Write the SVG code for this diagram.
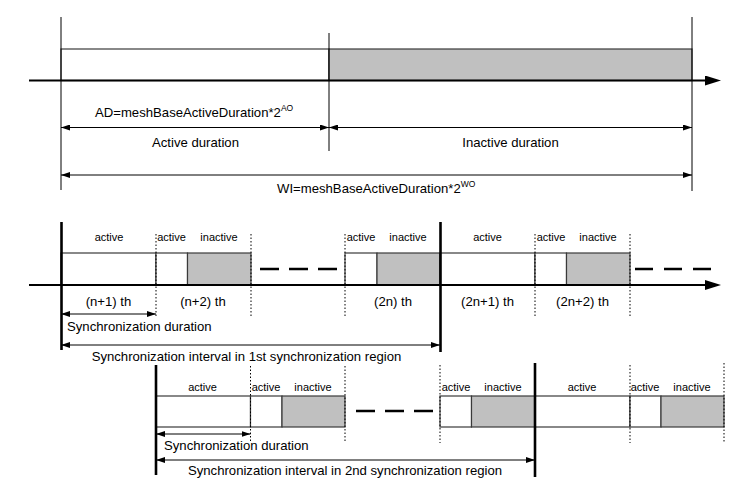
<svg xmlns="http://www.w3.org/2000/svg" width="751" height="484" viewBox="0 0 751 484">
<style>
text{font-family:"Liberation Sans",Arial,sans-serif;fill:#000}
.t13{font-size:13.15px}
.t11{font-size:11px}
.mid{text-anchor:middle}
.thin{stroke:#000;stroke-width:1;fill:none}
.thick{stroke:#000;stroke-width:2.6;fill:none}
.axis{stroke:#000;stroke-width:2.2;fill:none}
.dot{stroke:#000;stroke-width:1;stroke-dasharray:1.5 2;fill:none}
.dash{stroke:#000;stroke-width:2.6;fill:none}
.w{fill:#fff;stroke:#3a3a3a;stroke-width:1.2}
.g{fill:#c0c0c0;stroke:#3a3a3a;stroke-width:1.2}
.dim{stroke:#000;stroke-width:1;fill:none;marker-start:url(#ah);marker-end:url(#ah)}
</style>
<defs>
<marker id="ah" markerUnits="userSpaceOnUse" markerWidth="9" markerHeight="6" refX="9" refY="3" orient="auto-start-reverse"><path d="M0,0 L9,3 L0,6 Z" fill="#000"/></marker>
<marker id="axh" markerUnits="userSpaceOnUse" markerWidth="16" markerHeight="10" refX="2" refY="5" orient="auto"><path d="M0,0 L16,5 L0,10 Z" fill="#000"/></marker>
</defs>
<rect width="751" height="484" fill="#fff"/>

<!-- Top section -->
<g id="top-bar">
<rect class="w" x="61" y="49" width="268" height="31.5"/>
<rect class="g" x="329" y="49" width="363" height="31.5"/>
</g>
<g id="top-axis">
<line class="axis" x1="29" y1="80.5" x2="707" y2="80.5" marker-end="url(#axh)"/>
</g>
<g id="top-bounds">
<line class="thin" x1="61" y1="17" x2="61" y2="190"/>
<line class="thin" x1="329" y1="33" x2="329" y2="151"/>
<line class="thin" x1="692" y1="17" x2="692" y2="191"/>
</g>
<g id="connectors">
<line class="dim" x1="61" y1="127.5" x2="329" y2="127.5"/>
<line class="dim" x1="329" y1="127.5" x2="692" y2="127.5"/>
<line class="dim" x1="61" y1="175" x2="692" y2="175"/>
<line class="dim" x1="61" y1="314" x2="156" y2="314"/>
<line class="dim" x1="61" y1="345" x2="440" y2="345"/>
<line class="dim" x1="156" y1="434" x2="250.5" y2="434"/>
<line class="dim" x1="156" y1="460" x2="535" y2="460"/>
</g>
<g id="top-labels">
<text class="t13" x="95" y="117">AD=meshBaseActiveDuration*2<tspan font-size="8.5" dy="-6">AO</tspan></text>
<text class="t13 mid" x="195.5" y="147">Active duration</text>
<text class="t13 mid" x="510.5" y="147">Inactive duration</text>
<text class="t13" x="277" y="193">WI=meshBaseActiveDuration*2<tspan font-size="8.5" dy="-6">WO</tspan></text>
</g>

<!-- Middle section -->
<g id="region1-blocks">
<rect class="w" x="61" y="253" width="95" height="32"/>
<rect class="w" x="156" y="253" width="31.5" height="32"/>
<rect class="g" x="187.5" y="253" width="63.5" height="32"/>
<rect class="w" x="345" y="253" width="32" height="32"/>
<rect class="g" x="377" y="253" width="63" height="32"/>
<rect class="w" x="440" y="253" width="95" height="32"/>
<rect class="w" x="535" y="253" width="31.5" height="32"/>
<rect class="g" x="566.5" y="253" width="63.5" height="32"/>
</g>
<g id="mid-axis">
<line class="axis" x1="29" y1="285" x2="707" y2="285" marker-end="url(#axh)"/>
</g>
<g id="mid-marks">
<line class="thick" x1="61.5" y1="222" x2="61.5" y2="350"/>
<line class="thick" x1="440.5" y1="222" x2="440.5" y2="352"/>
<line class="dot" x1="156" y1="234" x2="156" y2="318"/>
<line class="dot" x1="251" y1="234" x2="251" y2="318"/>
<line class="dot" x1="345" y1="234" x2="345" y2="318"/>
<line class="dot" x1="535" y1="234" x2="535" y2="318"/>
<line class="dot" x1="630" y1="234" x2="630" y2="318"/>
<line class="dash" x1="260" y1="269" x2="337" y2="269" stroke-dasharray="19 10"/>
<line class="dash" x1="635" y1="269" x2="711" y2="269" stroke-dasharray="18 11"/>
</g>
<g id="mid-labels">
<text class="t11 mid" x="109" y="241">active</text>
<text class="t11 mid" x="171.5" y="241">active</text>
<text class="t11 mid" x="219" y="241">inactive</text>
<text class="t11 mid" x="361" y="241">active</text>
<text class="t11 mid" x="408" y="241">inactive</text>
<text class="t11 mid" x="487.5" y="241">active</text>
<text class="t11 mid" x="551" y="241">active</text>
<text class="t11 mid" x="598" y="241">inactive</text>
<text class="t13 mid" x="108.5" y="306">(n+1) th</text>
<text class="t13 mid" x="203" y="306">(n+2) th</text>
<text class="t13 mid" x="393" y="306">(2n) th</text>
<text class="t13 mid" x="487.5" y="306">(2n+1) th</text>
<text class="t13 mid" x="582.5" y="306">(2n+2) th</text>
<text class="t13" x="67" y="331">Synchronization duration</text>
<text class="t13 mid" x="246.5" y="361">Synchronization interval in 1st synchronization region</text>
</g>

<!-- Bottom section -->
<g id="region2-blocks">
<rect class="w" x="156" y="396" width="94.5" height="31"/>
<rect class="w" x="250.5" y="396" width="31.5" height="31"/>
<rect class="g" x="282" y="396" width="63" height="31"/>
<rect class="w" x="440" y="396" width="31.5" height="31"/>
<rect class="g" x="471.5" y="396" width="63.5" height="31"/>
<rect class="w" x="535" y="396" width="95" height="31"/>
<rect class="w" x="630" y="396" width="31" height="31"/>
<rect class="g" x="661" y="396" width="63" height="31"/>
</g>
<g id="bottom-marks">
<line class="thick" x1="156" y1="365" x2="156" y2="475"/>
<line class="thick" x1="535" y1="363" x2="535" y2="477"/>
<line class="dot" x1="250.5" y1="366" x2="250.5" y2="443"/>
<line class="dot" x1="345" y1="366" x2="345" y2="443"/>
<line class="dot" x1="440" y1="365" x2="440" y2="443"/>
<line class="dot" x1="630" y1="365" x2="630" y2="443"/>
<line class="dot" x1="724" y1="363" x2="724" y2="442"/>
<line class="dash" x1="356" y1="411" x2="433" y2="411" stroke-dasharray="19 10"/>
</g>
<g id="bottom-labels">
<text class="t11 mid" x="202.5" y="391">active</text>
<text class="t11 mid" x="266" y="391">active</text>
<text class="t11 mid" x="313" y="391">inactive</text>
<text class="t11 mid" x="456" y="391">active</text>
<text class="t11 mid" x="503" y="391">inactive</text>
<text class="t11 mid" x="582" y="391">active</text>
<text class="t11 mid" x="645" y="391">active</text>
<text class="t11 mid" x="692" y="391">inactive</text>
<text class="t13" x="164" y="450">Synchronization duration</text>
<text class="t13 mid" x="345" y="475">Synchronization interval in 2nd synchronization region</text>
</g>
</svg>
